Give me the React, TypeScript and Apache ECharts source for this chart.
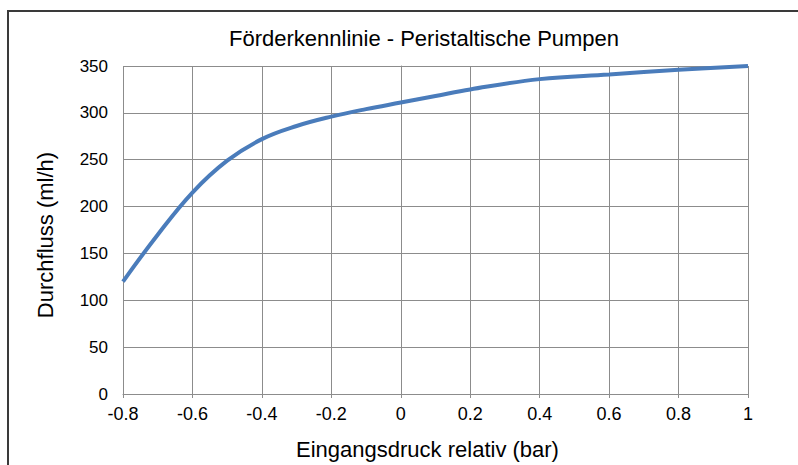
import React, { useEffect, useRef } from "react";
import * as echarts from "echarts";

const titleText = "Förderkennlinie - Peristaltische Pumpen";
const xAxisName = "Eingangsdruck relativ (bar)";
const yAxisName = "Durchfluss (ml/h)";
const pressure = [-0.8, -0.7, -0.6, -0.5, -0.4, -0.3, -0.2, -0.1, 0, 0.1, 0.2, 0.4, 0.6, 0.8, 1.0];
const flow = [120, 170, 215, 249, 272, 286, 296, 304, 311, 318, 325, 336, 341, 346, 350];

const FONT = "'Liberation Sans', Arial, sans-serif";

export default function App() {
  const ref = useRef<HTMLDivElement>(null);
  useEffect(() => {
    if (!ref.current) return;
    const chart = echarts.init(ref.current, undefined, { renderer: "svg" });
    chart.setOption({
      animation: false,
      backgroundColor: "#ffffff",
      textStyle: { fontFamily: FONT },
      title: {
        text: titleText,
        left: 229,
        top: 27,
        padding: 0,
        textStyle: { fontFamily: FONT, fontSize: 22, fontWeight: "normal", color: "#000" },
      },
      graphic: [
        {
          type: "rect",
          shape: { x: 8, y: 11, width: 900, height: 600 },
          style: { fill: "none", stroke: "#3a3a3a", lineWidth: 2 },
          silent: true,
        },
      ],
      grid: { left: 123, top: 66, width: 625, height: 328, containLabel: false },
      xAxis: {
        type: "value",
        min: -0.8,
        max: 1,
        interval: 0.2,
        name: xAxisName,
        nameLocation: "middle",
        nameGap: 44,
        nameTextStyle: { fontFamily: FONT, fontSize: 22, color: "#000", padding: [0, 16, 0, 0] },
        axisLine: { show: true, onZero: false, lineStyle: { color: "#8c8c8c", width: 1 } },
        axisTick: { show: true, length: 4, lineStyle: { color: "#8c8c8c" } },
        axisLabel: {
          fontFamily: FONT,
          fontSize: 18,
          color: "#000",
          margin: 11,
          formatter: (v: number) => String(Math.round(v * 10) / 10),
        },
        splitLine: { show: true, lineStyle: { color: "#8c8c8c", width: 1 } },
      },
      yAxis: {
        type: "value",
        min: 0,
        max: 350,
        interval: 50,
        name: yAxisName,
        nameLocation: "middle",
        nameGap: 67,
        nameTextStyle: { fontFamily: FONT, fontSize: 22, color: "#000", padding: [0, 10, 0, 0] },
        axisLine: { show: true, lineStyle: { color: "#8c8c8c", width: 1 } },
        axisTick: { show: false },
        axisLabel: { fontFamily: FONT, fontSize: 17, color: "#000", margin: 15 },
        splitLine: { show: true, lineStyle: { color: "#8c8c8c", width: 1 } },
      },
      series: [
        {
          type: "line",
          data: pressure.map((p, i) => [p, flow[i]]),
          smooth: 0.4,
          showSymbol: false,
          lineStyle: { color: "#4a7cbb", width: 4 },
        },
      ],
    });
    return () => chart.dispose();
  }, []);
  return (
    <div
      ref={ref}
      style={{ position: "fixed", left: 0, top: 0, width: 798, height: 465 }}
    />
  );
}
